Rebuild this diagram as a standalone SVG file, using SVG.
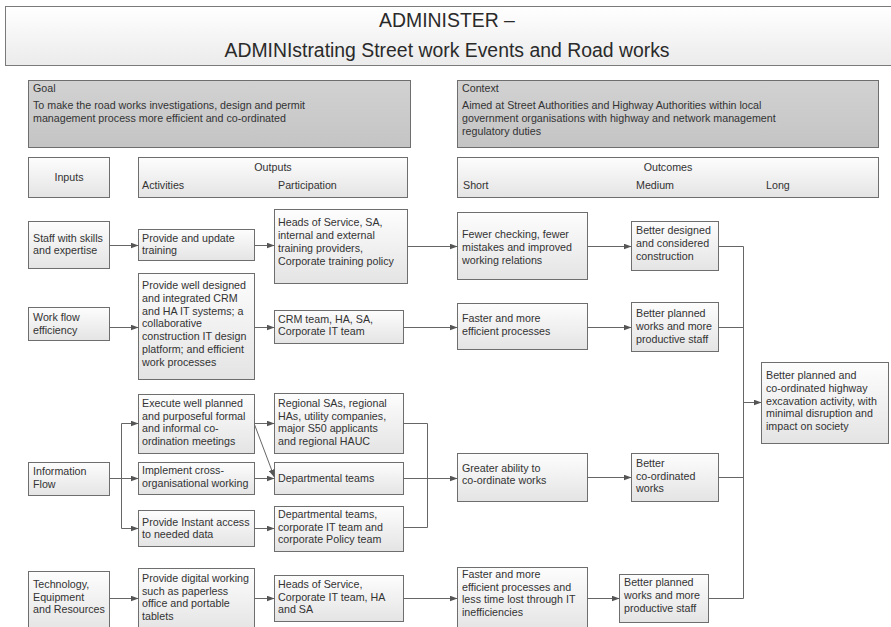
<svg xmlns="http://www.w3.org/2000/svg" width="891" height="627" viewBox="0 0 891 627">
<defs>
<linearGradient id="gBox" x1="0" y1="0" x2="0" y2="1"><stop offset="0" stop-color="#fdfdfd"/><stop offset="1" stop-color="#e4e4e4"/></linearGradient>
<linearGradient id="gTitle" x1="0" y1="0" x2="0" y2="1"><stop offset="0" stop-color="#ffffff"/><stop offset="1" stop-color="#ebebeb"/></linearGradient>
<linearGradient id="gGoal" x1="0" y1="0" x2="0" y2="1"><stop offset="0" stop-color="#d2d2d2"/><stop offset="1" stop-color="#c4c4c4"/></linearGradient>
<marker id="arr" viewBox="0 0 8 6" refX="8" refY="3" markerWidth="8" markerHeight="6" markerUnits="userSpaceOnUse" orient="auto"><path d="M0,0 L8,3 L0,6 Z" fill="#555"/></marker>
</defs>
<style>
.box{fill:url(#gBox);stroke:#6e6e6e;stroke-width:1}
.gbox{fill:url(#gGoal);stroke:#6e6e6e;stroke-width:1}
.tbox{fill:url(#gTitle);stroke:#7a7a7a;stroke-width:1}
.t{font-family:"Liberation Sans",Arial,sans-serif;font-size:10.7px;fill:#333}
.c{text-anchor:middle}
.title{font-family:"Liberation Sans",Arial,sans-serif;font-size:19.4px;fill:#2a2a2a;text-anchor:middle}
.ln{fill:none;stroke:#666;stroke-width:1}
.ar{fill:none;stroke:#666;stroke-width:1;marker-end:url(#arr)}
</style>
<rect width="891" height="627" fill="#ffffff"/>

<g id="title">
<rect class="tbox" x="5.5" y="6.5" width="900" height="59"/>
<text class="title" x="447" y="27">ADMINISTER –</text>
<text class="title" x="447" y="57">ADMINIstrating Street work Events and Road works</text>
</g>

<g id="goal">
<rect class="gbox" x="28.5" y="80.5" width="382" height="67"/>
<text class="t" x="33" y="92">Goal</text>
<text class="t" x="33" y="109">To make the road works investigations, design and permit</text>
<text class="t" x="33" y="122">management process more efficient and co-ordinated</text>
</g>

<g id="context">
<rect class="gbox" x="457.5" y="80.5" width="421" height="67"/>
<text class="t" x="462" y="92">Context</text>
<text class="t" x="462" y="109">Aimed at Street Authorities and Highway Authorities within local</text>
<text class="t" x="462" y="122">government organisations with highway and network management</text>
<text class="t" x="462" y="135">regulatory duties</text>
</g>

<g id="inputs">
<rect class="box" x="28.5" y="157.5" width="81" height="40"/>
<text class="t c" x="69" y="181">Inputs</text>
</g>

<g id="outputs">
<rect class="box" x="138.5" y="157.5" width="269" height="40"/>
<text class="t c" x="273" y="171">Outputs</text>
<text class="t" x="142" y="189">Activities</text>
<text class="t" x="278" y="189">Participation</text>
</g>

<g id="outcomes">
<rect class="box" x="457.5" y="157.5" width="421" height="40"/>
<text class="t c" x="668" y="171">Outcomes</text>
<text class="t" x="463" y="189">Short</text>
<text class="t" x="636" y="189">Medium</text>
<text class="t" x="766" y="189">Long</text>
</g>

<!-- Row 1 -->
<g id="staff">
<rect class="box" x="28.5" y="221.5" width="81" height="47"/>
<text class="t" x="33" y="242">Staff with skills</text>
<text class="t" x="33" y="254">and expertise</text>
</g>
<g id="training">
<rect class="box" x="138.5" y="229.5" width="116" height="31"/>
<text class="t" x="142" y="242">Provide and update</text>
<text class="t" x="142" y="254">training</text>
</g>
<g id="heads1">
<rect class="box" x="274.5" y="209.5" width="133" height="74"/>
<text class="t" x="278" y="226">Heads of Service, SA,</text>
<text class="t" x="278" y="239">internal and external</text>
<text class="t" x="278" y="252">training providers,</text>
<text class="t" x="278" y="265">Corporate training policy</text>
</g>
<g id="fewer">
<rect class="box" x="457.5" y="212.5" width="130" height="67"/>
<text class="t" x="462" y="238">Fewer checking, fewer</text>
<text class="t" x="462" y="251">mistakes and improved</text>
<text class="t" x="462" y="264">working relations</text>
</g>
<g id="designed">
<rect class="box" x="631.5" y="221.5" width="87" height="49"/>
<text class="t" x="636" y="234">Better designed</text>
<text class="t" x="636" y="247">and considered</text>
<text class="t" x="636" y="260">construction</text>
</g>

<!-- Row 2 -->
<g id="workflow">
<rect class="box" x="28.5" y="307.5" width="81" height="33"/>
<text class="t" x="33" y="321">Work flow</text>
<text class="t" x="33" y="334">efficiency</text>
</g>
<g id="crmdesign">
<rect class="box" x="138.5" y="273.5" width="116" height="106"/>
<text class="t" x="142" y="289">Provide well designed</text>
<text class="t" x="142" y="302">and integrated CRM</text>
<text class="t" x="142" y="315">and HA IT systems; a</text>
<text class="t" x="142" y="327">collaborative</text>
<text class="t" x="142" y="340">construction IT design</text>
<text class="t" x="142" y="353">platform; and efficient</text>
<text class="t" x="142" y="366">work processes</text>
</g>
<g id="crmteam">
<rect class="box" x="274.5" y="310.5" width="129" height="33"/>
<text class="t" x="278" y="323">CRM team, HA, SA,</text>
<text class="t" x="278" y="335">Corporate IT team</text>
</g>
<g id="faster">
<rect class="box" x="457.5" y="303.5" width="130" height="46"/>
<text class="t" x="462" y="322">Faster and more</text>
<text class="t" x="462" y="335">efficient processes</text>
</g>
<g id="planned2">
<rect class="box" x="631.5" y="302.5" width="87" height="49"/>
<text class="t" x="636" y="317">Better planned</text>
<text class="t" x="636" y="330">works and more</text>
<text class="t" x="636" y="343">productive staff</text>
</g>

<!-- Row 3 -->
<g id="infoflow">
<rect class="box" x="28.5" y="462.5" width="81" height="33"/>
<text class="t" x="33" y="475">Information</text>
<text class="t" x="33" y="488">Flow</text>
</g>
<g id="execute">
<rect class="box" x="138.5" y="394.5" width="116" height="59"/>
<text class="t" x="142" y="407">Execute well planned</text>
<text class="t" x="142" y="420">and purposeful formal</text>
<text class="t" x="142" y="432">and informal co-</text>
<text class="t" x="142" y="445">ordination meetings</text>
</g>
<g id="regional">
<rect class="box" x="274.5" y="393.5" width="129" height="60"/>
<text class="t" x="278" y="407">Regional SAs, regional</text>
<text class="t" x="278" y="420">HAs, utility companies,</text>
<text class="t" x="278" y="432">major S50 applicants</text>
<text class="t" x="278" y="445">and regional HAUC</text>
</g>
<g id="implement">
<rect class="box" x="138.5" y="462.5" width="116" height="32"/>
<text class="t" x="142" y="474">Implement cross-</text>
<text class="t" x="142" y="487">organisational working</text>
</g>
<g id="dept">
<rect class="box" x="274.5" y="462.5" width="129" height="32"/>
<text class="t" x="278" y="482">Departmental teams</text>
</g>
<g id="instant">
<rect class="box" x="138.5" y="510.5" width="116" height="36"/>
<text class="t" x="142" y="526">Provide Instant access</text>
<text class="t" x="142" y="538">to needed data</text>
</g>
<g id="deptcorp">
<rect class="box" x="274.5" y="506.5" width="129" height="45"/>
<text class="t" x="278" y="518">Departmental teams,</text>
<text class="t" x="278" y="531">corporate IT team and</text>
<text class="t" x="278" y="543">corporate Policy team</text>
</g>
<g id="greater">
<rect class="box" x="457.5" y="453.5" width="130" height="48"/>
<text class="t" x="462" y="472">Greater ability to</text>
<text class="t" x="462" y="484">co-ordinate works</text>
</g>
<g id="coordinated">
<rect class="box" x="631.5" y="453.5" width="87" height="48"/>
<text class="t" x="636" y="467">Better</text>
<text class="t" x="636" y="480">co-ordinated</text>
<text class="t" x="636" y="492">works</text>
</g>
<g id="final">
<rect class="box" x="761.5" y="362.5" width="127" height="81"/>
<text class="t" x="766" y="379">Better planned and</text>
<text class="t" x="766" y="392">co-ordinated highway</text>
<text class="t" x="766" y="405">excavation activity, with</text>
<text class="t" x="766" y="417">minimal disruption and</text>
<text class="t" x="766" y="430">impact on society</text>
</g>

<!-- Row 4 -->
<g id="tech">
<rect class="box" x="28.5" y="571.5" width="81" height="60"/>
<text class="t" x="33" y="588">Technology,</text>
<text class="t" x="33" y="601">Equipment</text>
<text class="t" x="33" y="613">and Resources</text>
</g>
<g id="digital">
<rect class="box" x="138.5" y="568.5" width="116" height="63"/>
<text class="t" x="142" y="582">Provide digital working</text>
<text class="t" x="142" y="595">such as paperless</text>
<text class="t" x="142" y="607">office and portable</text>
<text class="t" x="142" y="620">tablets</text>
</g>
<g id="heads4">
<rect class="box" x="274.5" y="575.5" width="129" height="46"/>
<text class="t" x="278" y="588">Heads of Service,</text>
<text class="t" x="278" y="601">Corporate IT team, HA</text>
<text class="t" x="278" y="613">and SA</text>
</g>
<g id="faster4">
<rect class="box" x="457.5" y="567.5" width="130" height="64"/>
<text class="t" x="462" y="578">Faster and more</text>
<text class="t" x="462" y="591">efficient processes and</text>
<text class="t" x="462" y="603">less time lost through IT</text>
<text class="t" x="462" y="616">inefficiencies</text>
</g>
<g id="planned4">
<rect class="box" x="619.5" y="574.5" width="89" height="48"/>
<text class="t" x="624" y="586">Better planned</text>
<text class="t" x="624" y="599">works and more</text>
<text class="t" x="624" y="612">productive staff</text>
</g>

<g id="connectors">
<!-- row 1 -->
<line class="ar" x1="109.5" y1="245.5" x2="138.5" y2="245.5"/>
<line class="ar" x1="254.5" y1="245.5" x2="274.5" y2="245.5"/>
<line class="ar" x1="407.5" y1="246.5" x2="457.5" y2="246.5"/>
<line class="ar" x1="587.5" y1="246.5" x2="631.5" y2="246.5"/>
<!-- row 2 -->
<line class="ar" x1="109.5" y1="327.5" x2="138.5" y2="327.5"/>
<line class="ar" x1="254.5" y1="327.5" x2="274.5" y2="327.5"/>
<line class="ar" x1="403.5" y1="327.5" x2="457.5" y2="327.5"/>
<line class="ar" x1="587.5" y1="327.5" x2="631.5" y2="327.5"/>
<!-- row 3 -->
<polyline class="ln" points="109.5,478.5 121.5,478.5"/>
<polyline class="ln" points="121.5,423.5 121.5,528.5"/>
<line class="ar" x1="121.5" y1="423.5" x2="138.5" y2="423.5"/>
<line class="ar" x1="121.5" y1="478.5" x2="138.5" y2="478.5"/>
<line class="ar" x1="121.5" y1="528.5" x2="138.5" y2="528.5"/>
<line class="ar" x1="254.5" y1="423.5" x2="274.5" y2="423.5"/>
<line class="ar" x1="254.5" y1="424.5" x2="274.5" y2="477.5"/>
<line class="ar" x1="254.5" y1="478.5" x2="274.5" y2="478.5"/>
<line class="ar" x1="254.5" y1="528.5" x2="274.5" y2="528.5"/>
<polyline class="ln" points="403.5,423.5 427.5,423.5 427.5,527.5 403.5,527.5"/>
<line class="ln" x1="403.5" y1="478.5" x2="427.5" y2="478.5"/>
<line class="ar" x1="427.5" y1="478.5" x2="457.5" y2="478.5"/>
<line class="ar" x1="587.5" y1="477.5" x2="631.5" y2="477.5"/>
<!-- row 4 -->
<line class="ar" x1="109.5" y1="598.5" x2="138.5" y2="598.5"/>
<line class="ar" x1="254.5" y1="598.5" x2="274.5" y2="598.5"/>
<line class="ar" x1="403.5" y1="598.5" x2="457.5" y2="598.5"/>
<line class="ar" x1="587.5" y1="598.5" x2="619.5" y2="598.5"/>
<!-- medium to long bus -->
<polyline class="ln" points="718.5,246.5 743.5,246.5 743.5,598.5 708.5,598.5"/>
<line class="ln" x1="718.5" y1="327.5" x2="743.5" y2="327.5"/>
<line class="ln" x1="718.5" y1="477.5" x2="743.5" y2="477.5"/>
<line class="ar" x1="743.5" y1="402.5" x2="761.5" y2="402.5"/>
</g>
</svg>
